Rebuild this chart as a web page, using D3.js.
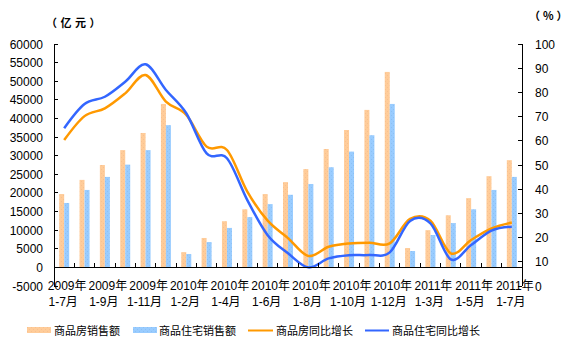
<!DOCTYPE html>
<html><head><meta charset="utf-8">
<script src="https://cdn.jsdelivr.net/npm/d3@7"></script>
<style>body{margin:0;background:#fff}svg{display:block}</style>
</head><body>
<svg id="c" width="571" height="348"></svg>
<script>
const categories = ["2009年1-7月","2009年1-8月","2009年1-9月","2009年1-10月","2009年1-11月","2009年1-12月",
 "2010年1-2月","2010年1-3月","2010年1-4月","2010年1-5月","2010年1-6月","2010年1-7月","2010年1-8月","2010年1-9月","2010年1-10月","2010年1-11月","2010年1-12月",
 "2011年1-2月","2011年1-3月","2011年1-4月","2011年1-5月","2011年1-6月","2011年1-7月"];
const tickYears =  ["2009年","2009年","2009年","2010年","2010年","2010年","2010年","2010年","2010年","2011年","2011年","2011年"];
const tickMonths = ["1-7月","1-9月","1-11月","1-2月","1-4月","1-6月","1-8月","1-10月","1-12月","1-3月","1-5月","1-7月"];
const houseSales = [19700,23500,27500,31500,36100,43900,4100,7900,12400,15600,19700,22900,26400,31800,36900,42300,52500,5200,10000,14000,18600,24500,28800];
const residSales = [17300,20800,24300,27600,31500,38200,3600,6800,10600,13500,17000,19500,22400,26900,31100,35500,43900,4400,8700,11900,15600,20800,24300];
const houseGrowth = [60.3,70.2,73.4,79.6,87.2,76.2,70.7,57.6,56.2,39,27,19.8,12.4,16.2,17.6,17.9,17.6,27.7,27,13.5,19,23.8,26.2];
const residGrowth = [65.2,75.2,78.2,84.4,91.6,81,71.4,54.8,52.8,35.5,21,13.5,7.7,11.4,12.7,12.8,13.9,26.9,25.9,11,16.9,22.9,24.5];
const leftTicks = d3.range(-5000, 60001, 5000);
const rightTicks = d3.range(0, 101, 10);
const seriesNames = ["商品房销售额","商品住宅销售额","商品房同比增长","商品住宅同比增长"];

const svg = d3.select("#c");
const font = "'Liberation Sans', Arial, 'Noto Sans CJK SC', sans-serif";
const cjk = "'Noto Sans CJK SC', sans-serif";
const L = 54, R = 522, T = 44, B = 286;
const x = d3.scaleBand().domain(d3.range(categories.length)).range([L, R]).padding(0);
const yL = d3.scaleLinear().domain([-5000, 60000]).range([B, T]);
const yR = d3.scaleLinear().domain([0, 100]).range([B, T]);
const bw = 5;

const defs = svg.append("defs");
function pat(id, bg, dot) {
  const p = defs.append("pattern").attr("id", id).attr("patternUnits", "userSpaceOnUse").attr("width", 4).attr("height", 4);
  p.append("rect").attr("width", 4).attr("height", 4).attr("fill", bg);
  p.append("rect").attr("x", 1).attr("y", 1).attr("width", 1).attr("height", 1).attr("fill", dot);
  p.append("rect").attr("x", 3).attr("y", 3).attr("width", 1).attr("height", 1).attr("fill", dot);
}
pat("po", "#FFCC99", "#F8C090");
pat("pb", "#99CCFF", "#8CC0F4");

const g = svg.append("g");
const off = (x.bandwidth() - 2 * bw) / 2;
g.selectAll(".bo").data(houseSales).join("rect")
  .attr("x", (d, i) => x(i) + off).attr("width", bw)
  .attr("y", d => yL(d)).attr("height", d => yL(0) - yL(d)).attr("fill", "url(#po)");
g.selectAll(".bb").data(residSales).join("rect")
  .attr("x", (d, i) => x(i) + off + bw).attr("width", bw)
  .attr("y", d => yL(d)).attr("height", d => yL(0) - yL(d)).attr("fill", "url(#pb)");

const line = d3.line().x((d, i) => x(i) + x.bandwidth() / 2).y(d => yR(d)).curve(d3.curveCardinal.tension(0));
g.append("path").attr("d", line(houseGrowth)).attr("fill", "none").attr("stroke", "#FF9900").attr("stroke-width", 2.5);
g.append("path").attr("d", line(residGrowth)).attr("fill", "none").attr("stroke", "#3366FF").attr("stroke-width", 2.5);

// axes
const ax = svg.append("g").attr("stroke", "#000").attr("stroke-width", 1).attr("shape-rendering", "crispEdges");
ax.append("line").attr("x1", L).attr("x2", L).attr("y1", T).attr("y2", B);
ax.append("line").attr("x1", R).attr("x2", R).attr("y1", T).attr("y2", B);
ax.append("line").attr("x1", L).attr("x2", R).attr("y1", yL(0)).attr("y2", yL(0));
ax.selectAll(".tl").data(leftTicks).join("line").attr("x1", L).attr("x2", L + 4).attr("y1", d => yL(d)).attr("y2", d => yL(d));
ax.selectAll(".tr").data(rightTicks).join("line").attr("x1", R - 4).attr("x2", R).attr("y1", d => yR(d)).attr("y2", d => yR(d));
ax.selectAll(".tx").data(d3.range(categories.length + 1)).join("line")
  .attr("x1", d => L + d * x.bandwidth()).attr("x2", d => L + d * x.bandwidth())
  .attr("y1", yL(0) - 4).attr("y2", yL(0));

const tx = svg.append("g").attr("font-family", font).attr("font-size", 12).attr("fill", "#000");
tx.selectAll(".ll").data(leftTicks).join("text").attr("x", 43).attr("y", d => yL(d) + 4.5).attr("text-anchor", "end").text(d => d);
tx.selectAll(".rl").data(rightTicks).join("text").attr("x", 535).attr("y", d => yR(d) + 4.5).text(d => d);
tx.selectAll(".xl1").data(tickYears).join("text").attr("x", (d, i) => x(i * 2) + x.bandwidth() / 2 + 3).attr("y", 290).attr("text-anchor", "middle").text(d => d);
tx.selectAll(".xl2").data(tickMonths).join("text").attr("x", (d, i) => x(i * 2) + x.bandwidth() / 2 - 1).attr("y", 306).attr("text-anchor", "middle").text(d => d);
// unit labels
tx.append("text").attr("x", 46).attr("y", 27).attr("font-size", 11).attr("font-family", cjk).attr("font-weight", "bold").attr("letter-spacing", 3.5).text("（亿元）");
tx.append("text").attr("x", 529).attr("y", 20).attr("font-size", 11).attr("font-family", cjk).attr("font-weight", "bold").attr("letter-spacing", 3).text("（%）");
</script>
<script>
// legend
const lg = svg.append("g").attr("font-family", font).attr("font-size", 11);
lg.append("rect").attr("x", 27).attr("y", 327).attr("width", 24).attr("height", 6).attr("fill", "url(#po)");
lg.append("text").attr("x", 54).attr("y", 335).text(seriesNames[0]);
lg.append("rect").attr("x", 133).attr("y", 327).attr("width", 24).attr("height", 6).attr("fill", "url(#pb)");
lg.append("text").attr("x", 159).attr("y", 335).text(seriesNames[1]);
lg.append("line").attr("x1", 248).attr("x2", 273).attr("y1", 330.5).attr("y2", 330.5).attr("stroke", "#FF9900").attr("stroke-width", 2);
lg.append("text").attr("x", 276).attr("y", 335).text(seriesNames[2]);
lg.append("line").attr("x1", 365).attr("x2", 389).attr("y1", 330.5).attr("y2", 330.5).attr("stroke", "#3366FF").attr("stroke-width", 2);
lg.append("text").attr("x", 392).attr("y", 335).text(seriesNames[3]);
</script>
</body></html>
